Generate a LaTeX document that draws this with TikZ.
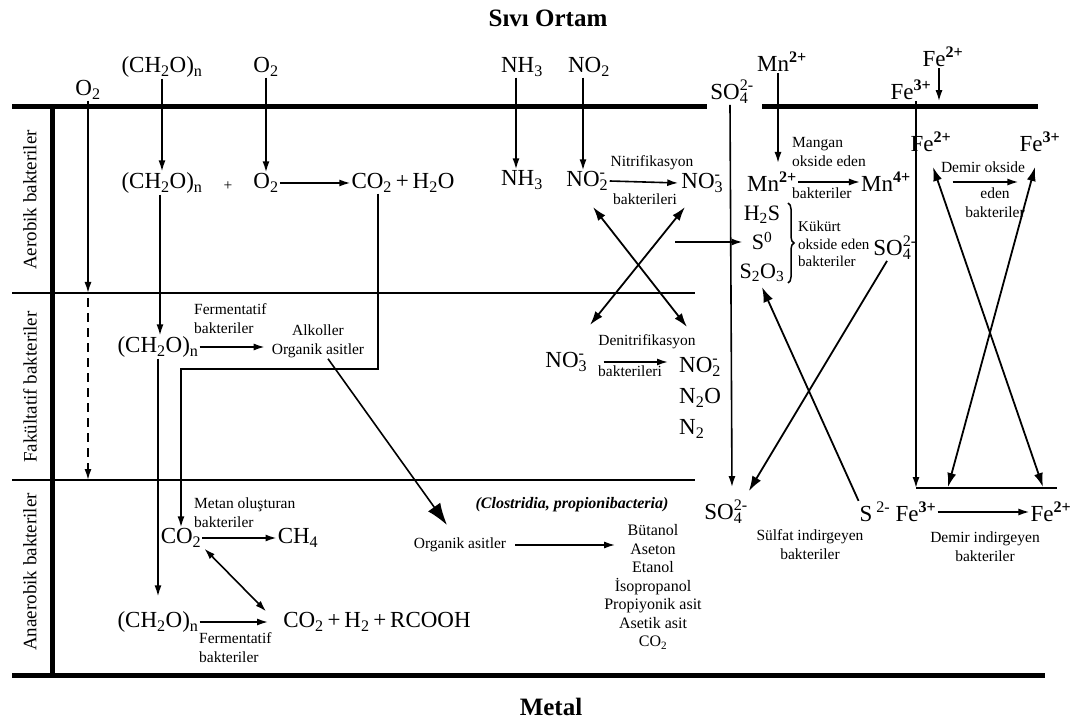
\documentclass[tikz,border=0pt]{standalone}
\usepackage{fontspec}
\setmainfont{Liberation Serif}
\usetikzlibrary{arrows.meta, decorations.pathreplacing}
\newcommand{\chs}[1]{\textsubscript{#1}}
\newcommand{\chsp}[2]{\rlap{\textsubscript{#1}}\textsuperscript{#2}}
\newcommand{\ion}[1]{\textsuperscript{\bfseries #1}}
\tikzstyle{chem}=[font=\fontsize{23}{28}\selectfont, inner sep=1pt]
\tikzstyle{lbl}=[font=\fontsize{15.5}{19}\selectfont, inner sep=1pt]
\tikzstyle{side}=[font=\fontsize{19}{22}\selectfont, rotate=90]
\tikzstyle{ttl}=[font=\fontsize{25}{30}\selectfont\bfseries]
\tikzstyle{arr}=[-{Latex[length=11pt,width=7pt]}, line width=1.6pt]
\tikzstyle{larr}=[-{Latex[length=15pt,width=10pt]}, line width=1.8pt]
\tikzstyle{bigarr}=[-{Latex[length=22pt,width=15pt]}, line width=1.6pt]
\tikzstyle{dblarr}=[{Latex[length=14pt,width=9pt]}-{Latex[length=14pt,width=9pt]}, line width=1.8pt]
\tikzstyle{wall}=[line width=5pt]
\tikzstyle{zone}=[line width=2pt]

\begin{document}
\begin{tikzpicture}[x=1pt,y=-1pt]
  \useasboundingbox (0,0) rectangle (1077,722);

  % walls and zones
  \draw[wall] (12,107) -- (707,107);
  \draw[wall] (762,107) -- (1038,107);
  \draw[wall] (12,675) -- (1045,675);
  \draw[wall] (52,107) -- (52,675);
  \draw[zone] (12,293) -- (695,293);
  \draw[zone] (12,480) -- (695,480);
  \coordinate (yA) at (0,293);
  \coordinate (yB) at (0,480);
  \coordinate (yF) at (0,488);

  \node[ttl] (sivi) at (548,18) {Sıvı Ortam};
  \node[ttl] (metal) at (551,707) {Metal};
  \node[side] (aer) at (30,200) {Aerobik bakteriler};
  \node[side] (fak) at (30,387) {Fakültatif bakteriler};
  \node[side] (ana) at (30,572) {Anaerobik bakteriler};

  % aerobic
  \node[chem] (o2in) at (88,90) {O\chs{2}};
  \node[chem] (ch2oin) at (162,67) {(CH\chs{2}O)\chs{n}};
  \node[chem] (o2top) at (266,67) {O\chs{2}};
  \node[chem] (ch2oA) at (162,183) {(CH\chs{2}O)\chs{n}};
  \node[lbl] (plus) at (228,186) {+};
  \node[chem] (o2A) at (266,183) {O\chs{2}};
  \node[chem] (co2A) at (403,183) {CO\chs{2}\,+\,H\chs{2}O};
  \draw[arr] (ch2oin.south) -- (ch2oA.north);
  \draw[arr] (o2top.south) -- (o2A.north);
  \draw[arr] (o2A.east) -- (co2A.west);
  \draw[arr] (o2in.south) -- (o2in.south |- yA);
  \draw[arr, dash pattern=on 9pt off 6pt] ([yshift=-5pt]o2in.south |- yA) -- (o2in.south |- yB);

  % facultative
  \node[chem] (ch2oB) at (158,347) {(CH\chs{2}O)\chs{n}};
  \node[lbl, anchor=west, align=left] (fermB) at (193,319) {Fermentatif\\bakteriler};
  \node[lbl, align=center] (alk) at (318,341) {Alkoller\\Organik asitler};
  \draw[arr] ([xshift=-2pt]ch2oA.south) -- ([xshift=-2pt]ch2oA.south |- ch2oB.north);
  \draw[arr] (ch2oB.east) -- ([xshift=-6pt]ch2oB.east -| alk.west);

  % anaerobic
  \node[lbl, anchor=west, align=left] (metan) at (193,513) {Metan oluşturan\\bakteriler};
  \node[chem] (co2B) at (181,538) {CO\chs{2}};
  \node[chem] (ch4) at (298,538) {CH\chs{4}};
  \node[chem] (ch2oC) at (158,622) {(CH\chs{2}O)\chs{n}};
  \node[chem] (rcooh) at (377,622) {CO\chs{2}\,+\,H\chs{2}\,+\,RCOOH};
  \node[lbl, anchor=west, align=left] (fermC) at (198,648) {Fermentatif\\bakteriler};
  \coordinate (turn) at (378,369);
  \draw[arr] (turn |- co2A.south) -- (turn) -| (co2B.north);
  \draw[arr] (ch2oB.south) -- ([yshift=14pt]ch2oC.north);
  \draw[arr] (co2B.east) -- (ch4.west);
  \draw[arr] (ch2oC.east) -- ([xshift=-14pt]rcooh.west);
  \draw[{Latex[length=11pt,width=7pt]}-{Latex[length=11pt,width=7pt]}, line width=1.6pt]
    ([xshift=2pt]co2B.south east) -- ([xshift=-16pt]rcooh.north west);

  \node[lbl, font=\fontsize{16}{19}\selectfont\bfseries\itshape] (clost) at (572,505) {(Clostridia, propionibacteria)};
  \node[lbl] (orgac) at (460,545) {Organik asitler};
  \node[lbl, align=center, font=\fontsize{16}{18.5}\selectfont] (prod) at (653,587)
    {Bütanol\\Aseton\\Etanol\\İsopropanol\\Propiyonik asit\\Asetik asit\\CO\chs{2}};
  \coordinate (clos) at (447,525);
  \draw[bigarr] ([xshift=10pt]alk.south) -- (clos);
  \draw[arr] ([xshift=8pt]orgac.east) -- ([xshift=12pt]orgac.east -| prod.west);

  % nitrogen
  \node[chem] (nh3in) at (522,67) {NH\chs{3}};
  \node[chem] (no2in) at (589,67) {NO\chs{2}};
  \node[chem] (nh3) at (522,180) {NH\chs{3}};
  \node[chem] (no2) at (586,181) {NO\chsp{2}{-}};
  \node[chem] (no3) at (701,183) {NO\chsp{3}{-}};
  \node[lbl] (nitlbl) at (652,163) {Nitrifikasyon};
  \node[lbl] (nitbak) at (645,199) {bakterileri};
  \draw[arr] ([xshift=-6pt]nh3in.south) -- ([xshift=-6pt]nh3.north);
  \draw[arr] ([xshift=-6pt]no2in.south) -- ([xshift=-3pt]no2.north);
  \draw[arr] ([xshift=3pt]no2.east) -- ([xshift=-2pt]no3.west);

  \node[lbl] (denlbl) at (647,342) {Denitrifikasyon};
  \node[chem] (no3d) at (565,362) {NO\chsp{3}{-}};
  \node[lbl] (denbak) at (630,371) {bakterileri};
  \node[chem, anchor=west, align=left, font=\fontsize{23}{31}\selectfont] (nprod) at (678,398)
    {NO\chsp{2}{-}\\N\chs{2}O\\N\chs{2}};
  \draw[arr] ([xshift=18pt]no3d.east) -- ([xshift=-10pt]no3d.east -| nprod.west);
  \coordinate (nxa) at (593,207);
  \coordinate (nxb) at (687,327);
  \coordinate (nxc) at (685,207);
  \coordinate (nxd) at (590,325);
  \draw[dblarr] (nxa) -- (nxb);
  \draw[dblarr] (nxc) -- (nxd);

  % sulfur
  \node[chem] (so4in) at (732,92) {SO\chsp{4}{2-}};
  \node[chem] (so4b) at (726,512) {SO\chsp{4}{2-}};
  \node[chem, align=center, font=\fontsize{22}{29}\selectfont] (sred) at (762,244)
    {H\chs{2}S\\S\textsuperscript{0}\\S\chs{2}O\chs{3}};
  \draw[decorate, decoration={brace, amplitude=6pt}, line width=1.5pt] (788,203) -- (788,283);
  \node[lbl, anchor=west, align=left, font=\fontsize{15}{17.5}\selectfont] (kuk) at (797,244)
    {Kükürt\\okside eden\\bakteriler};
  \node[chem] (so4r) at (895,248) {SO\chsp{4}{2-}};
  \node[chem] (s2) at (875,512) {S\,\textsuperscript{2-}};
  \node[lbl, align=center] (sulbak) at (810,545) {Sülfat indirgeyen\\bakteriler};
  \coordinate (sin) at (675,242);
  \draw[arr] (sin) -- ([xshift=4pt]sin -| sred.west);
  \draw[arr] ([xshift=-2pt]so4in.south) -- ([yshift=12pt]so4in.south |- so4b.north);
  \draw[larr] ([xshift=-8pt]so4r.south) -- ([yshift=8pt]so4b.north east);
  \draw[larr] (s2.north west) -- ([yshift=-4pt]sred.south);

  % manganese
  \node[chem] (mnin) at (782,62) {Mn\ion{2+}};
  \node[chem] (mn2) at (772,182) {Mn\ion{2+}};
  \node[chem] (mn4) at (886,182) {Mn\ion{4+}};
  \node[lbl, anchor=west, align=left] (mnlbl) at (791,152) {Mangan\\okside eden};
  \node[lbl, anchor=west] (mnbak) at (791,193) {bakteriler};
  \draw[arr] ([xshift=-4pt]mnin.south) -- ([xshift=-4pt,yshift=8pt]mnin.south |- mn2.north);
  \draw[arr] (mn2.east) -- (mn4.west);

  % iron
  \node[chem] (fe2in) at (943,57) {Fe\ion{2+}};
  \node[chem] (fe3in) at (911,90) {Fe\ion{3+}};
  \node[chem] (fe2m) at (931,142) {Fe\ion{2+}};
  \node[chem] (fe3m) at (1040,142) {Fe\ion{3+}};
  \node[lbl] (felbl) at (983,167) {Demir okside};
  \node[lbl, align=center] (febak) at (995,203) {eden\\bakteriler};
  \node[chem] (fe3b) at (916,512) {Fe\ion{3+}};
  \node[chem] (fe2b) at (1051,512) {Fe\ion{2+}};
  \node[lbl, align=center] (febak2) at (985,547) {Demir indirgeyen\\bakteriler};
  \draw[arr] ([xshift=-4pt]fe2in.south) -- ([xshift=-4pt]fe2in.south |- fe3in.south);
  \draw[arr] ([xshift=5pt]fe3in.south) -- ([xshift=5pt]fe3in.south |- yF);
  \draw[zone] ([xshift=5pt]fe3in.south |- yF) -- (1057,488);
  \draw[arr] ([yshift=-40pt]fe2m.east) -- ([yshift=-40pt]fe3m.west);
  \draw[arr] (fe3b.east) -- (fe2b.west);
  \coordinate (fxa) at (933,167);
  \coordinate (fxb) at (1043,487);
  \coordinate (fxc) at (1035,167);
  \coordinate (fxd) at (948,487);
  \draw[dblarr] (fxa) -- (fxb);
  \draw[dblarr] (fxc) -- (fxd);
\end{tikzpicture}
\end{document}
